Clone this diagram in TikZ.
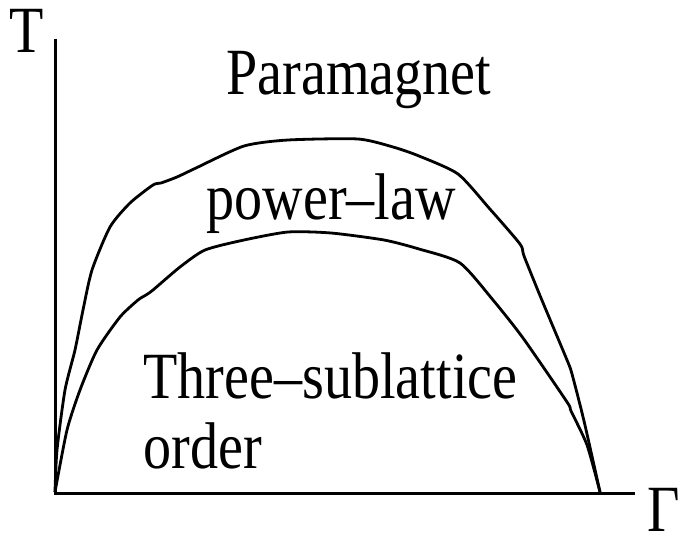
\documentclass[tikz,border=0pt]{standalone}
\usepackage{fontspec}
\setmainfont{Liberation Serif}
\newfontfamily\tallserif[FakeStretch=0.85, Ligatures=TeX]{Liberation Serif}
\usetikzlibrary{positioning}
\definecolor{inkblack}{HTML}{000000}

\begin{document}
\begin{tikzpicture}[x=1pt, y=-1pt, line width=3pt,
    phaselabel/.style={anchor=base west, inner sep=0pt, text=inkblack,
      font=\tallserif\fontsize{66}{70}\selectfont},
    boundary/.style={draw=inkblack, line width=2.8pt, line join=round}]

% Canvas
\useasboundingbox (0,0) rectangle (684,534);

% Axes
\coordinate (origin) at (55,493);
\coordinate (ttop) at (55,39);
\coordinate (gend) at (635,493);
\draw[inkblack] (ttop) -- (origin) -- (gend);
\node[phaselabel] (tlabel) at (8,53) {T};
\node[phaselabel] (glabel) at (646,531) {Γ};

% Upper boundary (paramagnet / power-law)
\draw[boundary] plot[smooth, tension=0.4] coordinates {
  (55,492) (57,450) (65,390) (75,350) (83,310) (92,270) (110,227)
  (130,203) (153,185) (161,183) (177,177) (196,168) (244,146) (288,140)
  (358,139) (393,147) (419,156) (458,174) (489,208) (520,244) (524,256)
  (541,298) (567,360) (572,374) (584,421) (600,492)};

% Lower boundary (power-law / ordered)
\draw[boundary] plot[smooth, tension=0.4] coordinates {
  (55,492) (67,430) (80,390) (97,350) (120,317) (138,300) (146,295)
  (153,290) (180,267) (205,250) (244,240) (288,232) (331,233) (384,240)
  (419,249) (460,263) (493,300) (523,338) (567,402) (571,411) (587,445)
  (600,492)};

% Phase labels
\node[phaselabel] (para) at (225,95) {Paramagnet};
\node[phaselabel] (plaw) at (205,220) {power--law};
\node[phaselabel] (three) at (142,398) {Three--sublattice};
\node[phaselabel] (order) at (142,468) {order};

\end{tikzpicture}
\end{document}
